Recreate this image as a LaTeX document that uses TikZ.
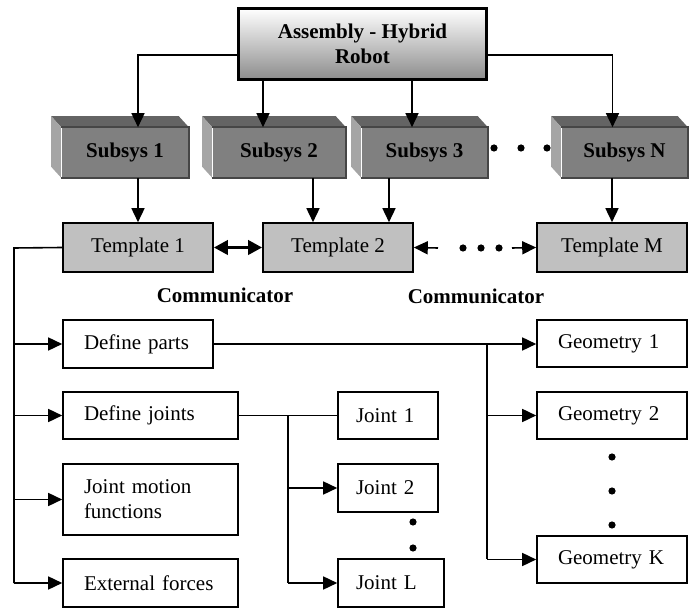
\documentclass[tikz,border=0pt]{standalone}
\usepackage{fontspec}
\setmainfont{Liberation Serif}
\usetikzlibrary{arrows.meta,calc}
\definecolor{tgray}{RGB}{192,192,192}
\definecolor{sfront}{RGB}{128,128,128}
\definecolor{stopc}{RGB}{100,100,100}
\definecolor{sside}{RGB}{165,165,165}
\definecolor{sedge}{RGB}{70,70,70}
\begin{document}
\begin{tikzpicture}[x=1pt,y=-1pt,
  font=\fontsize{21}{25}\selectfont, line width=1.6pt,
  arr/.style={-{Triangle[length=14pt,width=13pt]}},
  tbox/.style={draw, fill=tgray, line width=1.6pt, minimum height=49pt, minimum width=150pt, inner sep=0pt},
  wbox/.style={draw, fill=white, minimum height=48pt, inner xsep=21pt, inner ysep=0pt, align=left},
  sbox/.style={fill=sfront, minimum width=#1, minimum height=49pt, inner sep=0pt, font=\fontsize{21}{25}\selectfont\bfseries},
  lbl/.style={font=\fontsize{21}{25}\selectfont\bfseries, inner sep=0pt},
  dotc/.style={fill=black}
]
\useasboundingbox (0,0) rectangle (694,609);

% top node
\node[draw, line width=3.5pt, top color=white, bottom color=gray!90, minimum width=248pt, minimum height=71pt,
      align=center, inner sep=0pt, font=\fontsize{21}{25}\selectfont\bfseries] (top) at (362.5,44) {Assembly - Hybrid\\Robot};

% subsystem boxes (3D)
\foreach \n/\cx/\w/\t in {s1/125/126/Subsys 1, s2/279/132/Subsys 2, s3/424.5/125/Subsys 3, sN/624.5/125/Subsys N}{
  \node[sbox=\w pt] (\n) at (\cx,152.5) {\t};
  \fill[stopc] (\n.north west) -- ++(-10,-11) -- ($(\n.north east)+(-10,-11)$) -- (\n.north east) -- cycle;
  \fill[sside] (\n.north west) -- ++(-10,-11) -- ($(\n.south west)+(-10,-11)$) -- (\n.south west) -- cycle;
  \draw[white, line width=1.2pt] (\n.north west) -- (\n.south west);
  \draw[sedge, line width=1.5pt] (\n.north west) -- (\n.north east) -- (\n.south east) -- (\n.south west);
}

% templates
\node[tbox] (t1) at (138,247.5) {Template 1};
\node[tbox] (t2) at (338,247.5) {Template 2};
\node[tbox] (tM) at (612,247.5) {Template M};

% top -> subsystems
\draw[arr] ([yshift=-11pt]top.west) -| ([xshift=13pt]s1.north);
\draw[arr] ([yshift=-11pt]top.east) -| ([xshift=-12pt]sN.north);
\draw[arr] ([xshift=-16pt]s2.north |- top.south) -- ([xshift=-16pt]s2.north);
\draw[arr] ([xshift=-12.5pt]s3.north |- top.south) -- ([xshift=-12.5pt]s3.north);

% dots between Subsys 3 and N
\foreach \x in {494,521,547} \fill (\x,148) circle (3.6);

% subsystems -> templates
\draw[arr] ([xshift=13pt]s1.south) -- (t1.north);
\draw[arr] ([xshift=-25pt]t2.north |- s2.south) -- ([xshift=-25pt]t2.north);
\draw[arr] ([xshift=51pt]t2.north |- s3.south) -- ([xshift=51pt]t2.north);
\draw[arr] (tM.north |- sN.south) -- (tM.north);

% communicator arrows
\draw[line width=3.5pt, {Triangle[length=14pt,width=14pt]}-{Triangle[length=14pt,width=14pt]}] (t1.east) -- (t2.west);
\coordinate (cl) at (438,248);
\coordinate (cr) at (512,248);
\draw[arr] (cl) -- (t2.east);
\draw[arr] (cr) -- (tM.west);
\foreach \x in {463,481,499} \fill (\x,248) circle (3.6);

\node[lbl] (c1) at (225,295) {Communicator};
\node[lbl] (c2) at (476,296) {Communicator};

% left column
\node[wbox, text width=108pt] (dp) at (138,344) {Define parts};
\node[wbox, text width=133pt, minimum height=47pt] (dj) at (150.5,415.5) {Define joints};
\node[wbox, text width=133pt, minimum height=71pt] (jm) at (150.5,499.5) {Joint motion\\functions};
\node[wbox, text width=133pt] (ef) at (150.5,583) {External forces};

% joints
\node[wbox, inner xsep=18pt, text width=64pt, minimum height=47pt] (j1) at (388,415.5) {Joint 1};
\node[wbox, inner xsep=18pt, text width=64pt] (j2) at (388,488) {Joint 2};
\node[wbox, inner xsep=18pt, text width=70pt] (jL) at (391,583) {Joint L};

% geometries
\node[wbox, text width=108pt, minimum height=47pt] (g1) at (612,343.5) {Geometry 1};
\node[wbox, text width=108pt, minimum height=47pt] (g2) at (612,415.5) {Geometry 2};
\node[wbox, text width=108pt, minimum height=47pt] (gK) at (612,559.5) {Geometry K};

% spine from template 1
\coordinate (sp) at (14,248);
\draw (t1.west) -- (sp) -- (sp |- ef.west);
\draw[arr] (sp |- dp.west) -- (dp.west);
\draw[arr] (sp |- dj.west) -- (dj.west);
\draw[arr] (sp |- jm.west) -- (jm.west);
\draw[arr] (sp |- ef.west) -- (ef.west);

% joints spine
\coordinate (jsp) at (288,416);
\draw (dj.east) -- (j1.west);
\draw (jsp) -- (jsp |- jL.west);
\draw[arr] (jsp |- j2.west) -- (j2.west);
\draw[arr] (jsp |- jL.west) -- (jL.west);
\foreach \y in {522,548} \fill (413,\y) circle (3.6);

% geometry spine
\coordinate (gsp) at (487,344);
\draw[arr] (dp.east) -- (g1.west |- dp.east);
\draw (gsp) -- (gsp |- gK.west);
\draw[arr] (gsp |- g2.west) -- (g2.west);
\draw[arr] (gsp |- gK.west) -- (gK.west);
\foreach \y in {457,491,525} \fill (612,\y) circle (3.6);
\end{tikzpicture}
\end{document}
